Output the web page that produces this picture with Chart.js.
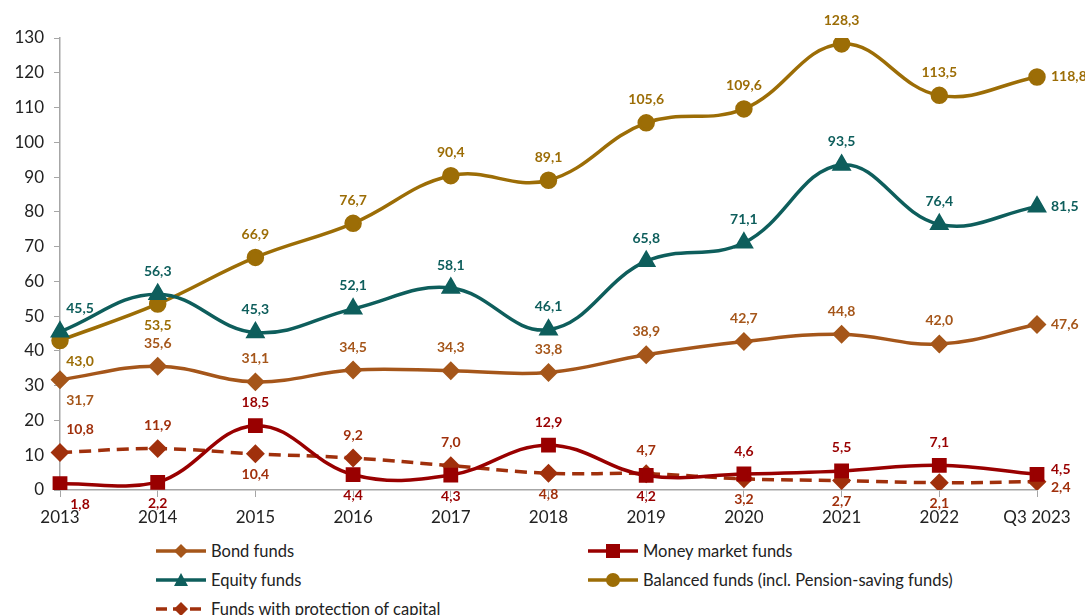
<!DOCTYPE html>
<html>
<head>
<meta charset="utf-8">
<script src="https://cdn.jsdelivr.net/npm/chart.js@4.4.0/dist/chart.umd.min.js"></script>
<style>
    body { margin: 0; background: #fff; font-family: Lato, "Open Sans", sans-serif; }
    #wrap { position: relative; width: 1085px; height: 615px; overflow: hidden; }
    #box { position: absolute; left: 0; top: 0; width: 1085px; height: 540px; }
    .leg { position: absolute; display: flex; align-items: center; font-size: 16.5px; color: #222; white-space: nowrap; }
    .leg svg { margin-right: 4px; }
</style>
</head>
<body>
<div id="wrap">
    <div id="box"><canvas id="chart"></canvas></div>
    <div class="leg" style="left:155px; top:541px;"><svg width="52" height="20"><line x1="1" y1="10" x2="51" y2="10" stroke="#A5561A" stroke-width="3.5"/><path d="M26 3 L33 10 L26 17 L19 10 Z" fill="#A5561A"/></svg>Bond funds</div>
    <div class="leg" style="left:587px; top:541px;"><svg width="52" height="20"><line x1="1" y1="10" x2="51" y2="10" stroke="#990000" stroke-width="3.5"/><rect x="19" y="3" width="14" height="14" fill="#990000"/></svg>Money market funds</div>
    <div class="leg" style="left:155px; top:570px;"><svg width="52" height="20"><line x1="1" y1="10" x2="51" y2="10" stroke="#0E5E5C" stroke-width="3.5"/><path d="M26 3 L33 16 L19 16 Z" fill="#0E5E5C"/></svg>Equity funds</div>
    <div class="leg" style="left:587px; top:570px;"><svg width="52" height="20"><line x1="1" y1="10" x2="51" y2="10" stroke="#9C6D06" stroke-width="3.5"/><circle cx="26" cy="10" r="7" fill="#9C6D06"/></svg>Balanced funds (incl. Pension-saving funds)</div>
    <div class="leg" style="left:155px; top:599px;"><svg width="52" height="20"><line x1="1" y1="10" x2="51" y2="10" stroke="#A0300C" stroke-width="3.5" stroke-dasharray="11 6"/><path d="M26 3 L33 10 L26 17 L19 10 Z" fill="#A0300C"/></svg>Funds with protection of capital</div>
</div>
<script>
const years = ['2013', '2014', '2015', '2016', '2017', '2018', '2019', '2020', '2021', '2022', 'Q3 2023'];
const bondFunds = [31.7, 35.6, 31.1, 34.5, 34.3, 33.8, 38.9, 42.7, 44.8, 42.0, 47.6];
const moneyMarketFunds = [1.8, 2.2, 18.5, 4.4, 4.3, 12.9, 4.2, 4.6, 5.5, 7.1, 4.5];
const equityFunds = [45.5, 56.3, 45.3, 52.1, 58.1, 46.1, 65.8, 71.1, 93.5, 76.4, 81.5];
const balancedFunds = [43.0, 53.5, 66.9, 76.7, 90.4, 89.1, 105.6, 109.6, 128.3, 113.5, 118.8];
const protectionFunds = [10.8, 11.9, 10.4, 9.2, 7.0, 4.8, 4.7, 3.2, 2.7, 2.1, 2.4];

// label placement per point: a = above, b = below, r = right (ru / rd = right, nudged up / down)
const bondPos = ['b', 'a', 'a', 'a', 'a', 'a', 'a', 'a', 'a', 'a', 'r'];
const moneyPos = ['b', 'b', 'a', 'b', 'b', 'a', 'b', 'a', 'a', 'a', 'ru'];
const equityPos = ['a', 'a', 'a', 'a', 'a', 'a', 'a', 'a', 'a', 'a', 'r'];
const balancedPos = ['b', 'b', 'a', 'a', 'a', 'a', 'a', 'a', 'a', 'a', 'r'];
const protectionPos = ['a', 'a', 'b', 'a', 'a', 'b', 'a', 'b', 'b', 'b', 'rd'];

const pointLabels = {
    id: 'pointLabels',
    afterDatasetsDraw(chart) {
        const ctx = chart.ctx;
        ctx.save();
        ctx.font = 'bold 14px Lato, "Open Sans", sans-serif';
        ctx.textBaseline = 'middle';
        chart.data.datasets.forEach((ds, i) => {
            const meta = chart.getDatasetMeta(i);
            meta.data.forEach((pt, j) => {
                const text = ds.data[j].toFixed(1).replace('.', ',');
                const pos = ds.labelPos[j];
                let x = pt.x, y = pt.y;
                ctx.fillStyle = ds.labelColor;
                if (pos[0] === 'r') {
                    ctx.textAlign = 'left';
                    x += 14;
                    if (pos === 'ru') y -= 5;
                    if (pos === 'rd') y += 6;
                } else {
                    ctx.textAlign = 'center';
                    y += pos === 'a' ? -23 : 21;
                    if (j === 0) x += 20;
                }
                ctx.fillText(text, x, y);
            });
        });
        ctx.restore();
    }
};

function series(label, data, color, style, radius, pos, extra) {
    return Object.assign({
        label: label,
        data: data,
        borderColor: color,
        backgroundColor: color,
        pointStyle: style,
        pointRadius: radius,
        pointHoverRadius: radius,
        borderWidth: 3.5,
        tension: 0.4,
        labelPos: pos,
        labelColor: color
    }, extra || {});
}

new Chart(document.getElementById('chart'), {
    type: 'line',
    data: {
        labels: years,
        datasets: [
            series('Bond funds', bondFunds, '#A5561A', 'rectRot', 7, bondPos),
            series('Money market funds', moneyMarketFunds, '#990000', 'rect', 8, moneyPos),
            series('Equity funds', equityFunds, '#0E5E5C', 'triangle', 8, equityPos),
            series('Balanced funds (incl. Pension-saving funds)', balancedFunds, '#9C6D06', 'circle', 7, balancedPos),
            series('Funds with protection of capital', protectionFunds, '#A0300C', 'rectRot', 7, protectionPos, { borderDash: [12, 7] })
        ]
    },
    options: {
        responsive: true,
        maintainAspectRatio: false,
        animation: false,
        layout: { padding: { top: 38, right: 48, left: 0, bottom: 0 } },
        plugins: {
            legend: { display: false },
            tooltip: { enabled: false }
        },
        scales: {
            x: {
                offset: false,
                grid: { drawOnChartArea: false, drawTicks: true, tickLength: 7, color: '#a6a6a6' },
                border: { color: '#a6a6a6', width: 1.5 },
                ticks: { color: '#222', font: { size: 17, family: 'Lato, "Open Sans", sans-serif' }, padding: 10, maxRotation: 0, autoSkip: false },
                afterFit: (scale) => { scale.height = 50; }
            },
            y: {
                min: 0,
                max: 130,
                ticks: { stepSize: 10, color: '#222', font: { size: 17, family: 'Lato, "Open Sans", sans-serif' }, padding: 10 },
                grid: { drawOnChartArea: false, drawTicks: true, tickLength: 6, color: '#a6a6a6' },
                border: { color: '#a6a6a6', width: 1.5 },
                afterFit: (scale) => { scale.width = 60; }
            }
        }
    },
    plugins: [pointLabels]
});
</script>
</body>
</html>
